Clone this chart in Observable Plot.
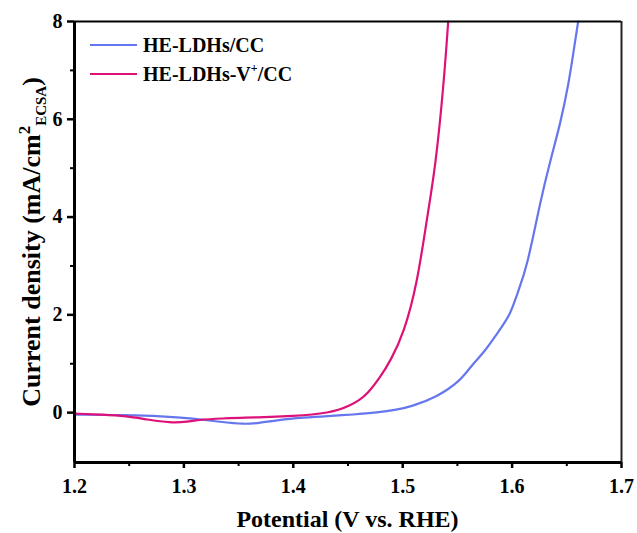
<!DOCTYPE html>
<html><head><meta charset="utf-8">
<script src="https://cdn.jsdelivr.net/npm/d3@7"></script>
<script src="https://cdn.jsdelivr.net/npm/@observablehq/plot@0.6"></script>
<style>
body{margin:0;background:#fff;}
#wrap{position:relative;width:637px;height:533px;font-family:"Liberation Serif","Times New Roman",serif;font-weight:bold;}
#wrap svg text{font-family:"Liberation Serif","Times New Roman",serif;font-weight:bold;}
.legend{position:absolute;left:90px;top:31px;font-size:20px;line-height:28px;color:#000;}
.legend .row{display:flex;align-items:center;height:28.5px;white-space:nowrap;}
.legend .sw{display:inline-block;width:47px;height:0;border-top:2.5px solid;margin-right:6px;}
.legend sup{font-size:12px;vertical-align:9px;line-height:0;}
</style></head><body><div id="wrap"></div>
<script>
const seriesNames = ["HE-LDHs/CC", "HE-LDHs-V+/CC"];
const seriesColors = ["#6677ee", "#dd1177"];

const potentialBlue = [1.200, 1.248, 1.279, 1.309, 1.3335, 1.3548, 1.370, 1.3853, 1.410, 1.431, 1.455, 1.4767, 1.495, 1.5071, 1.5315, 1.5528, 1.562, 1.575, 1.5864, 1.5985, 1.6047, 1.6138, 1.626, 1.6351, 1.6442, 1.6518, 1.6564, 1.6604];
const currentBlue   = [-0.04, -0.05, -0.07, -0.12, -0.19, -0.24, -0.21, -0.15, -0.10, -0.07, -0.04, 0.00, 0.06, 0.12, 0.32, 0.65, 0.94, 1.25, 1.62, 2.0, 2.44, 2.98, 4.35, 5.17, 5.92, 6.74, 7.42, 8.0];

const potentialRed = [1.200, 1.225, 1.248, 1.266, 1.288, 1.303, 1.315, 1.335, 1.355, 1.380, 1.400, 1.418, 1.431, 1.442, 1.452, 1.460, 1.468, 1.4797, 1.489, 1.501, 1.5133, 1.5224, 1.530, 1.5376, 1.5416];
const currentRed   = [-0.02, -0.04, -0.07, -0.14, -0.21, -0.19, -0.14, -0.12, -0.10, -0.09, -0.07, -0.04, 0.00, 0.06, 0.15, 0.25, 0.39, 0.73, 1.07, 1.62, 2.64, 4.01, 5.03, 6.74, 8.0];

const xDomain = [1.2, 1.7];
const yDomain = [-1.02, 8];
const xMajor = [1.2, 1.3, 1.4, 1.5, 1.6, 1.7];
const xMinor = [1.25, 1.35, 1.45, 1.55, 1.65];
const yMajor = [0, 2, 4, 6, 8];
const yMinor = [1, 3, 5, 7];
const xTitle = "Potential (V vs. RHE)";

const blueData = potentialBlue.map((v, i) => ({v, j: currentBlue[i]}));
const redData = potentialRed.map((v, i) => ({v, j: currentRed[i]}));

const chart = Plot.plot({
  width: 637, height: 533,
  marginLeft: 74, marginRight: 16, marginTop: 21, marginBottom: 71,
  style: {fontFamily: '"Liberation Serif","Times New Roman",serif', fontWeight: "bold", background: "#fff", color: "#000", fontSize: "20px"},
  x: {domain: xDomain, label: null},
  y: {domain: yDomain, label: null},
  marks: [
    Plot.line(blueData, {x: "v", y: "j", stroke: seriesColors[0], strokeWidth: 2.2, curve: "basis"}),
    Plot.line(redData, {x: "v", y: "j", stroke: seriesColors[1], strokeWidth: 2.2, curve: "basis"}),
    Plot.axisX({ticks: xMajor, tickSize: 6, tickPadding: 10, fontSize: 20, strokeWidth: 2.5, tickFormat: d3.format(".1f"), label: null}),
    Plot.axisX({ticks: xMinor, tickSize: 4, strokeWidth: 2, tickFormat: () => "", label: null}),
    Plot.axisY({ticks: yMajor, tickSize: 7, tickPadding: 5, fontSize: 20, strokeWidth: 2.5, tickFormat: d => String(d), label: null}),
    Plot.axisY({ticks: yMinor, tickSize: 4, strokeWidth: 2, tickFormat: () => "", label: null}),
    Plot.ruleY([yDomain[1]], {stroke: "#000", strokeWidth: 2.2}),
    Plot.ruleX([xDomain[1]], {stroke: "#222", strokeWidth: 2}),
    Plot.ruleY([yDomain[0]], {stroke: "#000", strokeWidth: 3}),
    Plot.ruleX([xDomain[0]], {stroke: "#000", strokeWidth: 3})
  ]
});

const wrap = document.getElementById("wrap");
wrap.appendChild(chart);

const svg = d3.select(chart);
svg.selectAll("text").style("font-size", "20px").attr("font-size", 20);

svg.append("text")
  .attr("x", (74 + 621) / 2).attr("y", 527)
  .attr("text-anchor", "middle")
  .style("font-size", "24px")
  .text(xTitle);

const yt = svg.append("text")
  .attr("transform", "translate(40,242) rotate(-90)")
  .attr("text-anchor", "middle")
  .style("font-size", "26px");
yt.append("tspan").text("Current density (mA/cm");
yt.append("tspan").attr("dy", -10).style("font-size", "17px").text("2");
yt.append("tspan").attr("dy", 16).style("font-size", "15px").text("ECSA");
yt.append("tspan").attr("dy", -6).text(")");

const legend = document.createElement("div");
legend.className = "legend";
legend.innerHTML = seriesNames.map((n, i) => {
  const label = n.replace("V+", "V<sup>+</sup>");
  return `<div class="row"><span class="sw" style="border-color:${seriesColors[i]}"></span><span>${label}</span></div>`;
}).join("");
wrap.appendChild(legend);
</script>
</body></html>
